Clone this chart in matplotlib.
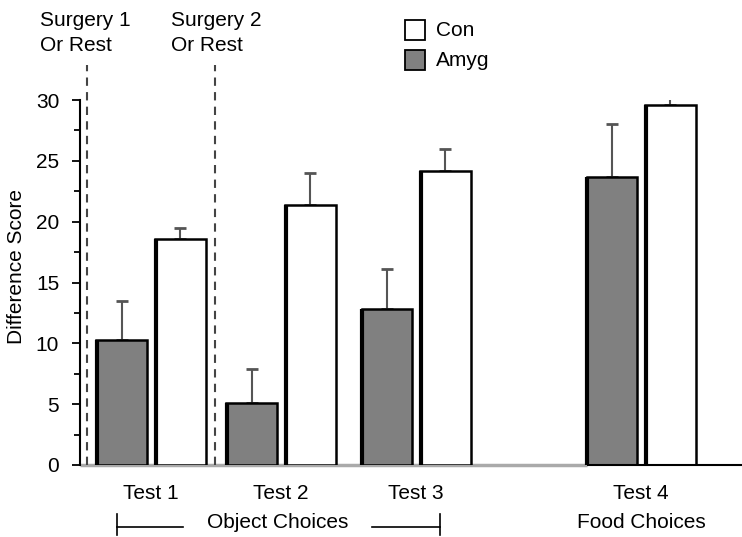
import matplotlib
matplotlib.use("Agg")
import matplotlib.pyplot as plt
from matplotlib.patches import Rectangle
from matplotlib.lines import Line2D
import matplotlib.transforms as mtransforms

plt.rcParams['font.family'] = ['Liberation Sans', 'DejaVu Sans']

# Data
tests = ["Test 1", "Test 2", "Test 3", "Test 4"]
amyg_mean = [10.3, 5.1, 12.8, 23.7]
amyg_err = [3.2, 2.8, 3.3, 4.3]
con_mean = [18.6, 21.4, 24.2, 29.6]
con_err = [0.9, 2.6, 1.8, 0.6]
legend_labels = ["Con", "Amyg"]
group_labels = ["Object Choices", "Food Choices"]
marker_labels = ["Surgery 1\nOr Rest", "Surgery 2\nOr Rest"]

FS = 15

# Layout
centers = [1.0, 2.0, 3.04, 4.77]
offset = 0.225
width = 0.39
surgery_x = [0.508, 1.49]

fig = plt.figure(figsize=(7.42, 5.37), dpi=100)
W, H = 742, 537
ax = fig.add_axes([80 / W, (H - 465) / H, (W - 80) / W, 365 / H])

ax.set_xlim(0.454, 5.546)
ax.set_ylim(0, 30)

amyg_x = [c - offset for c in centers]
con_x = [c + offset for c in centers]

err_kw = dict(ecolor="#555555", elinewidth=1.5, capsize=4, capthick=2)
ax.bar(amyg_x, amyg_mean, width, color="#808080", edgecolor="black",
       linewidth=1.8, zorder=3)
ax.bar(con_x, con_mean, width, color="white", edgecolor="black",
       linewidth=1.8, zorder=3)
ax.errorbar(amyg_x, amyg_mean, yerr=[[0] * 4, amyg_err], fmt="none", zorder=2, **err_kw)
ax.errorbar(con_x, con_mean, yerr=[[0] * 4, con_err], fmt="none", zorder=2, **err_kw)

# heavier left edge on each bar
for xs, ys in [(amyg_x, amyg_mean), (con_x, con_mean)]:
    for x, y in zip(xs, ys):
        ax.plot([x - width / 2 + 0.006] * 2, [0, y], color="black", lw=3,
                zorder=4, solid_capstyle="butt")

# baseline
ax.plot([0.454, amyg_x[3] - width / 2], [0, 0], color="#aaaaaa", lw=2.5,
        zorder=1, clip_on=False, solid_capstyle="butt")
ax.plot([amyg_x[3] - width / 2, 5.546], [0, 0], color="black", lw=1.5,
        zorder=4, clip_on=False, solid_capstyle="butt")

# surgery markers
bt = mtransforms.blended_transform_factory(ax.transData, ax.transAxes)
for sx in surgery_x:
    ax.plot([sx, sx], [0, 1.096], transform=bt,
            color="#444444", lw=1.5, ls=(0, (4, 3)), clip_on=False, zorder=2)

# axes styling
for s in ["top", "right", "bottom"]:
    ax.spines[s].set_visible(False)
ax.spines["left"].set_linewidth(1.5)
ax.set_yticks([0, 5, 10, 15, 20, 25, 30])
ax.set_yticks([2.5, 7.5, 12.5, 17.5, 22.5, 27.5], minor=True)
ax.tick_params(axis="y", which="major", length=6, width=1.3, labelsize=FS, pad=9)
ax.tick_params(axis="y", which="minor", length=4, width=1.3)
ax.set_xticks(centers)
ax.set_xticklabels(tests)
ax.tick_params(axis="x", length=0, labelsize=FS, pad=14)
ax.set_ylabel("Difference Score", fontsize=FS)
ax.yaxis.set_label_coords(-54 / 662, (465 - 267) / 365)

# group brackets below the axis
def px_x(p):
    return 0.454 + (p - 80) / 130.0
yb, y0, y1 = -0.170, -0.134, -0.192
for xs, ys in [([px_x(117), px_x(183)], [yb, yb]),
               ([px_x(117), px_x(117)], [y0, y1]),
               ([px_x(372), px_x(440)], [yb, yb]),
               ([px_x(440), px_x(440)], [y0, y1])]:
    ax.add_line(Line2D(xs, ys, transform=bt, color="black", lw=1.2, clip_on=False))
ax.text(px_x(278), -0.158, group_labels[0], transform=bt, ha="center", va="center", fontsize=FS)
ax.text(centers[3], -0.158, group_labels[1], transform=bt, ha="center", va="center", fontsize=FS)

# surgery labels
fig.text(40 / W, 1 - 33 / H, marker_labels[0], ha="left", va="center", fontsize=FS, linespacing=1.45)
fig.text(171 / W, 1 - 33 / H, marker_labels[1], ha="left", va="center", fontsize=FS, linespacing=1.45)

# legend
for i, (lab, fc) in enumerate(zip(legend_labels, ["white", "#808080"])):
    yc = 30 + i * 30
    fig.patches.append(Rectangle((405 / W, 1 - (yc + 10) / H), 20 / W, 20 / H,
                                 transform=fig.transFigure, facecolor=fc,
                                 edgecolor="black", lw=1.3))
    fig.text(436 / W, 1 - (yc + 1) / H, lab, ha="left", va="center", fontsize=FS)

fig.savefig("out.png", dpi=100)
